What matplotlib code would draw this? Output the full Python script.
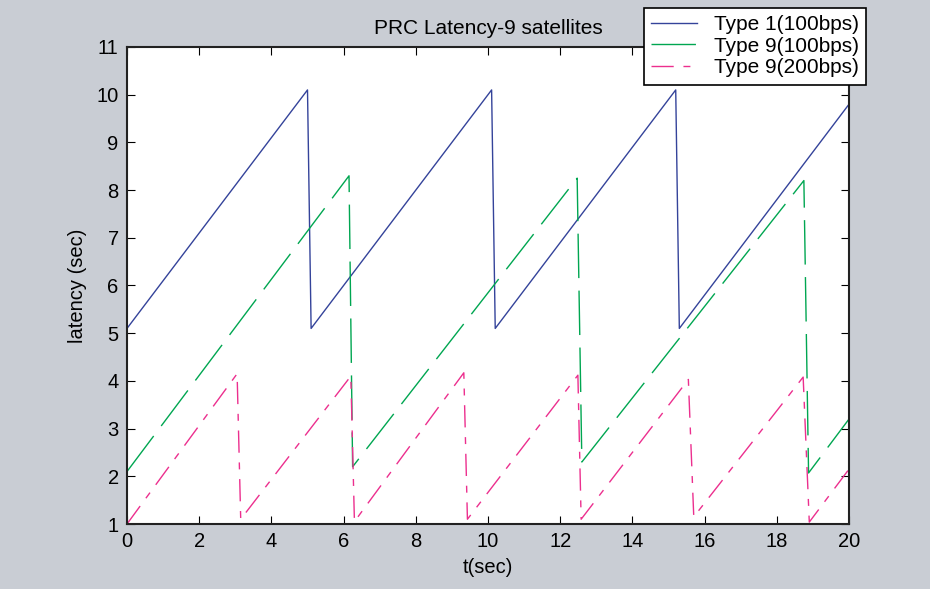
import matplotlib
matplotlib.use("Agg")
import matplotlib.pyplot as plt

plt.rcParams['font.family'] = ['Liberation Sans', 'DejaVu Sans']

# Type 1 (100bps) sawtooth vertices
t_type1 = [0, 5.0, 5.1, 10.1, 10.2, 15.2, 15.3, 20]
lat_type1 = [5.1, 10.1, 5.1, 10.1, 5.1, 10.1, 5.1, 9.8]

# Type 9 (100bps)
t_type9_100 = [0, 6.15, 6.25, 12.47, 12.6, 18.75, 18.88, 20]
lat_type9_100 = [2.1, 8.3, 2.2, 8.25, 2.3, 8.2, 2.07, 3.2]

# Type 9 (200bps)
t_type9_200 = [0, 3.05, 3.15, 6.2, 6.3, 9.33, 9.43, 12.49, 12.58, 15.55, 15.7, 18.73, 18.9, 20]
lat_type9_200 = [1.0, 4.15, 1.1, 4.1, 1.05, 4.17, 1.1, 4.12, 1.1, 4.03, 1.15, 4.08, 1.04, 2.15]

labels = ['Type 1(100bps)', 'Type 9(100bps)', 'Type 9(200bps)']
title = 'PRC Latency-9 satellites'

bg = '#c9cdd4'
fig = plt.figure(figsize=(9.3, 5.89), dpi=100, facecolor=bg)
ax = fig.add_axes([127/930, 1-524/589, (849-127)/930, (524-47)/589])
ax.set_facecolor('white')

l1, = ax.plot(t_type1, lat_type1, color='#34439a', lw=1.0, label=labels[0])
l2, = ax.plot(t_type9_100, lat_type9_100, color='#00a651', lw=1.0, label=labels[1],
              dashes=(32, 9))
l3, = ax.plot(t_type9_200, lat_type9_200, color='#ec2f8e', lw=1.0, label=labels[2],
              dashes=(16, 7, 5, 7))

ax.set_xlim(0, 20)
ax.set_ylim(1, 11)
ax.set_xticks(range(0, 21, 2))
ax.set_yticks(range(1, 12))
ax.tick_params(direction='in', top=True, right=True, length=6, width=0.8,
               labelsize=14.5, colors='black', pad=6)
for s in ax.spines.values():
    s.set_linewidth(1.5)
    s.set_color('#222222')

ax.set_xlabel('t(sec)', fontsize=14.5, labelpad=5)
ax.set_ylabel('latency (sec)', fontsize=14.5, labelpad=7)
ax.set_title(title, fontsize=15, pad=9)

leg = fig.legend(handles=[l1, l2, l3], loc='upper right',
                 bbox_to_anchor=(866/930, 1-8/589), fontsize=15,
                 frameon=True, fancybox=False, framealpha=1, edgecolor='black',
                 handlelength=2.2, handletextpad=0.8, labelspacing=0.12,
                 borderpad=0.35, borderaxespad=0)
leg.get_frame().set_linewidth(1.2)

fig.savefig('out.png', dpi=100, facecolor=bg)
